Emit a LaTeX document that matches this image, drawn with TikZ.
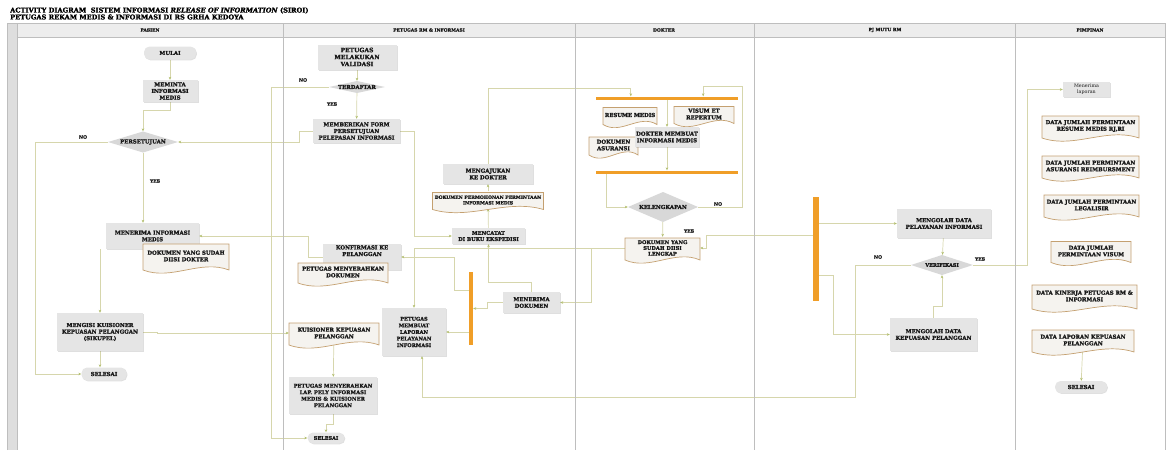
\documentclass[tikz,border=0pt]{standalone}
\usepackage{fontspec}
\setmainfont{DejaVu Serif}[BoldFeatures={FakeBold=1.6},BoldItalicFeatures={FakeBold=1.6}]
\usetikzlibrary{calc,arrows.meta,shadows}

\definecolor{flowline}{RGB}{214,214,172}
\definecolor{flowtip}{RGB}{178,190,110}
\definecolor{boxfill}{RGB}{229,229,229}
\definecolor{diafill}{RGB}{216,216,216}
\definecolor{docfill}{RGB}{245,243,239}
\definecolor{docedge}{RGB}{196,160,112}
\definecolor{barfill}{RGB}{240,158,40}
\definecolor{frameline}{RGB}{190,190,190}
\definecolor{headfill}{RGB}{237,237,237}
\definecolor{stripfill}{RGB}{222,222,222}
\definecolor{inktext}{RGB}{25,25,25}

\pgfdeclarelayer{edges}
\pgfsetlayers{edges,main}

\tikzset{
  txt/.style={font=\fontsize{5.4}{6.6}\selectfont\bfseries, text=inktext,
    align=center, inner sep=0pt},
  actbox/.style={txt, rectangle, fill=boxfill,
    drop shadow={shadow xshift=1pt, shadow yshift=-1pt, opacity=0.25, fill=black!50}},
  term/.style={txt, rectangle, rounded corners=5.5pt, fill=boxfill,
    drop shadow={shadow xshift=0.8pt, shadow yshift=-0.8pt, opacity=0.25, fill=black!50}},
  syncbar/.style={rectangle, fill=barfill, inner sep=0pt},
  flow/.style={draw=flowline, line width=0.7pt,
    -{Stealth[length=3pt, width=2.6pt, color=flowtip]}},
  guard/.style={font=\fontsize{4.6}{5}\selectfont\bfseries, text=inktext, inner sep=0pt},
  lanehead/.style={font=\fontsize{4.4}{5}\selectfont\bfseries, text=inktext, inner sep=0pt},
  titletxt/.style={font=\fontsize{6.6}{6.6}\selectfont\bfseries, text=black, inner sep=0pt, anchor=west},
}

% document symbol: [options] name, centre, width, height, text
\newcommand{\docnode}[6][]{%
  \coordinate (#2-c) at (#3);
  \filldraw[fill=docfill, draw=docedge, line width=0.7pt]
    ($(#2-c)+(-#4/2,-#5/2)$) -- ($(#2-c)+(-#4/2,#5/2)$)
    .. controls ($(#2-c)+(-#4/6,#5/2+11)$) and ($(#2-c)+(#4/6,#5/2-11)$) ..
    ($(#2-c)+(#4/2,#5/2)$) -- ($(#2-c)+(#4/2,-#5/2)$) -- cycle;
  \node[txt, minimum width=#4, minimum height=#5, yshift=1pt, #1] (#2) at (#2-c) {#6};
}

% decision diamond: [options] name, centre, width, height, text
\newcommand{\decision}[6][]{%
  \coordinate (#2-c) at (#3);
  \fill[diafill] ($(#2-c)+(-#4/2,0)$) -- ($(#2-c)+(0,-#5/2)$)
    -- ($(#2-c)+(#4/2,0)$) -- ($(#2-c)+(0,#5/2)$) -- cycle;
  \node[txt, minimum width=#4, minimum height=#5, #1] (#2) at (#2-c) {#6};
}

\begin{document}
\begin{tikzpicture}[x=1pt, y=-1pt]
\useasboundingbox (0,0) rectangle (1170,450);

% ---------- swimlane frame ----------
\fill[headfill] (17,23) rectangle (1165,37);
\fill[stripfill] (7,23) rectangle (17,450);
\draw[frameline, line width=0.8pt] (7,450) -- (7,23) -- (1165,23) -- (1165,450);
\draw[frameline, line width=0.7pt] (17,23) -- (17,450) (17,37) -- (1165,37);
\foreach \lx in {283,575,754,1015}
  \draw[frameline, line width=0.7pt] (\lx,23) -- (\lx,450);

\node[titletxt] (title1) at (10,10.5) {ACTIVITY DIAGRAM\ \ SISTEM INFORMASI \textit{RELEASE OF INFORMATION} (SIROI)};
\node[titletxt] (title2) at (10,17) {PETUGAS REKAM MEDIS \& INFORMASI DI RS GRHA KEDOYA};

\node[lanehead] (hpasien) at (150,30) {PASIEN};
\node[lanehead] (hpetugas) at (429,30) {PETUGAS RM \& INFORMASI};
\node[lanehead] (hdokter) at (664,30) {DOKTER};
\node[lanehead] (hmutu) at (885,30) {PJ MUTU RM};
\node[lanehead] (hpimpinan) at (1090,30) {PIMPINAN};

% ---------- PASIEN ----------
\node[term, minimum width=52, minimum height=13] (mulai) at (170,53) {MULAI};
\node[actbox, minimum width=55, minimum height=22] (meminta) at (170,91) {MEMINTA\\INFORMASI\\MEDIS};
\decision{persetujuan}{143,142}{70}{21}{PERSETUJUAN}
\node[actbox, minimum width=93, minimum height=26] (menerima) at (152.5,236) {MENERIMA INFORMASI\\MEDIS};
\docnode{dokdok}{186,257}{86}{26}{DOKUMEN YANG SUDAH\\DIISI DOKTER}
\node[actbox, minimum width=86, minimum height=38] (mengisi) at (100,332) {MENGISI KUISIONER\\KEPUASAN PELANGGAN\\(SIKUPEL)};
\node[term, minimum width=45, minimum height=13] (selesai1) at (104,374) {SELESAI};

% ---------- PETUGAS RM & INFORMASI ----------
\node[actbox, minimum width=79, minimum height=25, font=\fontsize{6}{7}\selectfont\bfseries] (validasi) at (357,57) {PETUGAS\\MELAKUKAN\\VALIDASI};
\decision{terdaftar}{357,87}{56}{12}{TERDAFTAR}
\node[actbox, minimum width=87, minimum height=24] (form) at (356.5,131) {MEMBERIKAN FORM\\PERSETUJUAN\\PELEPASAN INFORMASI};
\node[actbox, minimum width=90, minimum height=20] (mengajukan) at (488,174) {MENGAJUKAN\\KE DOKTER};
\docnode[font=\fontsize{4.5}{5.6}\selectfont\bfseries]{permohonan}{488,201}{111}{17}{DOKUMEN PERMOHONAN PERMINTAAN\\INFORMASI MEDIS}
\node[actbox, minimum width=73, minimum height=16, font=\fontsize{5.1}{6.2}\selectfont\bfseries] (mencatat) at (488.5,236) {MENCATAT\\DI BUKU EKSPEDISI};
\node[actbox, minimum width=78, minimum height=26] (konfirmasi) at (362,257) {KONFIRMASI KE\\PELANGGAN\\[6pt]};
\docnode{menyerahkan}{343,273}{90}{20}{PETUGAS MENYERAHKAN\\DOKUMEN}
\docnode{kuisioner}{334,334}{90}{22}{KUISIONER KEPUASAN\\PELANGGAN}
\node[actbox, minimum width=64, minimum height=48, font=\fontsize{5}{6.6}\selectfont\bfseries] (laporan) at (414,332) {PETUGAS\\MEMBUAT\\LAPORAN\\PELAYANAN\\INFORMASI};
\node[actbox, minimum width=88, minimum height=37, font=\fontsize{5.2}{6.5}\selectfont\bfseries] (lapbox) at (333,395.5) {PETUGAS MENYERAHKAN\\LAP. PELY INFORMASI\\MEDIS \& KUISIONER\\PELANGGAN};
\node[term, minimum width=37, minimum height=11, font=\fontsize{5}{6}\selectfont\bfseries] (selesai2) at (326,438) {SELESAI};
\node[syncbar, minimum width=4, minimum height=73] (bar1) at (471,308.5) {};
\node[actbox, minimum width=57, minimum height=21] (terimadok) at (531.5,302.5) {MENERIMA\\DOKUMEN};

% ---------- DOKTER ----------
\node[syncbar, minimum width=142, minimum height=3] (bartop) at (667,98) {};
\docnode{resume}{630,116}{54}{17}{RESUME MEDIS}
\docnode{visum}{704,115}{60}{17}{VISUM ET\\REPERTUM}
\docnode{asuransi}{613.5,146}{49}{18}{DOKUMEN\\ASURANSI}
\node[actbox, minimum width=64, minimum height=20] (membuat) at (667,137) {DOKTER MEMBUAT\\INFORMASI MEDIS};
\node[syncbar, minimum width=142, minimum height=3] (barbot) at (667,172) {};
\decision{kelengkapan}{663,207}{70}{30}{KELENGKAPAN}
\docnode[font=\fontsize{5.1}{5.8}\selectfont\bfseries]{lengkap}{662.5,249}{75}{22}{DOKUMEN YANG\\SUDAH DIISI\\LENGKAP}

% ---------- PJ MUTU RM ----------
\node[syncbar, minimum width=6, minimum height=104] (bar2) at (816,249) {};
\node[actbox, minimum width=94, minimum height=29] (pelayanan) at (944,223.5) {MENGOLAH DATA\\PELAYANAN INFORMASI};
\decision[font=\fontsize{4.9}{5.5}\selectfont\bfseries]{verifikasi}{942,265}{62}{20}{VERIFIKASI};
\node[actbox, minimum width=87, minimum height=33] (kepuasan) at (933.5,334.5) {MENGOLAH DATA\\KEPUASAN PELANGGAN};

% ---------- PIMPINAN ----------
\node[actbox, minimum width=47, minimum height=15, font=\fontsize{4.8}{5.6}\selectfont\mdseries] (menerimalap) at (1086.5,89.5) {Menerima\\laporan};
\docnode{d1}{1090.5,127}{97}{22}{DATA JUMLAH PERMINTAAN\\RESUME MEDIS RJ,RI}
\docnode{d2}{1090.5,167}{97}{22}{DATA JUMLAH PERMINTAAN\\ASURANSI REIMBURSMENT}
\docnode{d3}{1091.5,206}{95}{22}{DATA JUMLAH PERMINTAAN\\LEGALISIR}
\docnode{d4}{1091,252}{80}{21}{DATA JUMLAH\\PERMINTAAN VISUM}
\docnode{d5}{1084.5,297}{105}{24}{DATA KINERJA PETUGAS RM \&\\INFORMASI}
\docnode{d6}{1083,341}{102}{22}{DATA LAPORAN KEPUASAN\\PELANGGAN}
\node[term, minimum width=52, minimum height=12] (selesai3) at (1081,387) {SELESAI};

% ---------- guard labels ----------
\node[guard] (gno1) at (83,137) {NO};
\node[guard] (gyes1) at (155,181) {YES};
\node[guard] (gno2) at (303,80) {NO};
\node[guard] (gyes2) at (332,104) {YES};
\node[guard] (gno3) at (718,204) {NO};
\node[guard] (gyes3) at (689,231) {YES};
\node[guard] (gno4) at (878,257) {NO};
\node[guard] (gyes4) at (980,259) {YES};

% ---------- connectors ----------
\begin{pgfonlayer}{edges}
\draw[flow] (mulai) -- (meminta);
\draw[flow] (meminta.south) -- ++(0,8) -| (persetujuan.north);
\draw[flow] (persetujuan.west) -- ++(-72,0) |- (selesai1.west);
\draw[flow] (persetujuan.south) -- (persetujuan.south |- menerima.north);
\draw[flow] (menerima.south -| mengisi.north) -- (mengisi.north);
\draw[flow] (mengisi.south) -- (mengisi.south |- selesai1.north);
\draw[flow] (mengisi.east) -- ++(14,0) |- (kuisioner.west);
\draw[flow] (form.west) -- ++(-13,0) |- (persetujuan.east);
\draw[flow] (validasi) -- (terdaftar);
\draw[flow] (terdaftar.west) -- ++(-57,0) |- (selesai2.west);
\draw[flow] (terdaftar) -- (form);
\draw[flow] (form.east) -- ++(14,0) |- (mencatat.west);
\draw[flow] (mencatat) -- (permohonan);
\draw[flow] (permohonan) -- (mengajukan);
\draw[flow] (mengajukan.north) |- ($(bartop.north west)+(35,-8)$) -- ($(bartop.north west)+(35,0)$);
\draw[flow] (kelengkapan.east) -- ++(44,0) |- ($(bartop.north east)+(-35,-10)$) -- ($(bartop.north east)+(-35,0)$);
\draw[flow] (bartop) -- (membuat);
\draw[flow] (membuat) -- (barbot);
\draw[flow] ($(barbot.south west)+(11,0)$) |- (kelengkapan.west);
\draw[flow] (kelengkapan) -- (lengkap);
\draw[flow] ($(bar2.west)+(0,-14)$) -- ++(-106,0) |- (lengkap.east);
\draw[flow] (lengkap.west) -| (laporan.north);
\draw[flow] ($(lengkap.west)+(-33,0)$) |- (terimadok.east);
\draw[flow] (terimadok.north) -- ++(0,-9) -| (mencatat.south);
\draw[flow] (terimadok.west) -- ++(-15,0) |- (bar1.east);
\draw[flow] ($(bar1.west)+(0,-18)$) -- ++(-14,0) |- (konfirmasi.east);
\draw[flow] (bar1.west |- laporan.east) -- (laporan.east);
\draw[flow] (konfirmasi.west) -- ++(-14,0) |- (menerima.east);
\draw[flow] (kuisioner) -- (lapbox);
\draw[flow] (lapbox.south) -- ++(0,10) -| (selesai2.north);
\draw[flow] (bar2.east |- pelayanan.west) -- (pelayanan.west);
\draw[flow] ($(bar2.east)+(0,26)$) -- ++(14,0) |- (kepuasan.west);
\draw[flow] (pelayanan) -- (verifikasi);
\draw[flow] (kepuasan.north) -- ++(0,-11) -| (verifikasi.south);
\draw[flow] (verifikasi.west) -| (855,397) -| ($(laporan.south)+(8,0)$);
\draw[flow] (verifikasi.east) -- ++(54,0) |- (menerimalap.west);
\draw[flow] (d6) -- (selesai3);
\end{pgfonlayer}
\end{tikzpicture}
\end{document}
